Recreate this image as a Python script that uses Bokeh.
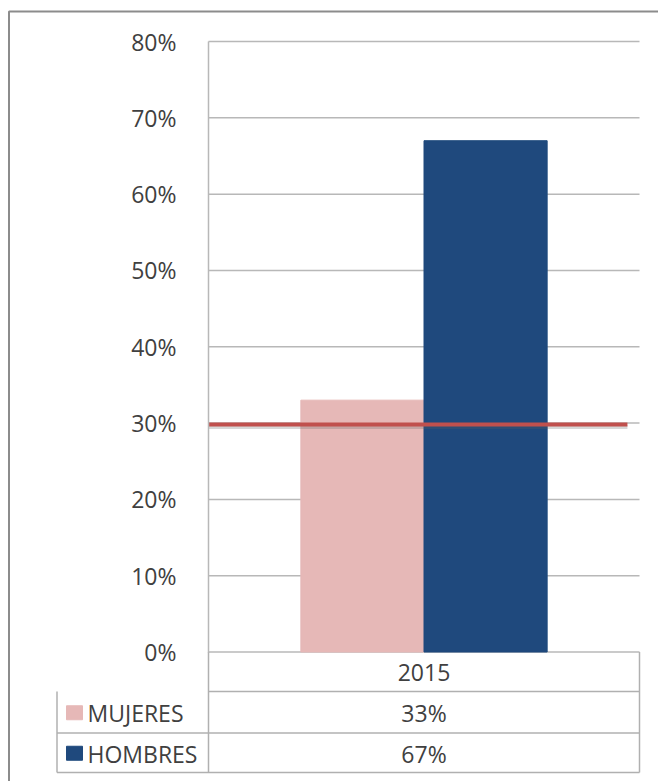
from bokeh.plotting import figure
from bokeh.models import Range1d, LinearAxis, NumeralTickFormatter, FixedTicker
from bokeh.core.properties import value
from bokeh.embed import file_html
from bokeh.resources import INLINE

# ---- data ----
categoria = "2015"
series = ["MUJERES", "HOMBRES"]
valores = [0.33, 0.67]
colores = ["#e6b8b7", "#1f497d"]
meta = 0.298          # red reference line (about 30 %)
y_ticks = [0.0, 0.1, 0.2, 0.3, 0.4, 0.5, 0.6, 0.7, 0.8]

# ---- layout (pixels) ----
W, H = 658, 781
PL, PR, PT, PB = 208, 639, 41, 651.5      # plot area
TL = 56.5                                  # data-table left edge
ROWS = [PB, 691, 732.5, 772]               # data-table row lines
FONT = "Open Sans"
FS = "23px"
TXT = "#404040"
GRID = "#b8b8b8"

p = figure(width=W, height=H, x_range=Range1d(0, W), y_range=Range1d(H, 0),
           output_backend="svg", toolbar_location=None, title=None,
           x_axis_location=None, y_axis_location=None, min_border=0)
p.background_fill_color = "white"
p.border_fill_color = "white"
p.outline_line_color = None
p.grid.visible = False

# category / percent scales mapped onto the plot area
xs_per = 1.0 / (PR - PL)
p.extra_x_ranges = {"cat": Range1d(-PL * xs_per, (W - PL) * xs_per)}
ys_per = 0.8 / (PB - PT)
p.extra_y_ranges = {"pct": Range1d(-(H - PB) * ys_per, 0.8 + PT * ys_per)}

# outer chart border (runs off the right and bottom edges like the reference)
p.line(x=[W + 20, 8.5, 8.5], y=[11, 11, H + 20], line_color="#8c8c8c", line_width=2)

# horizontal gridlines
p.segment(x0=[0] * len(y_ticks), x1=[1] * len(y_ticks), y0=y_ticks, y1=y_ticks,
          x_range_name="cat", y_range_name="pct", line_color=GRID, line_width=1.5)

# bars (gap width 150 % -> each bar 1/3.5 of the category)
bw = 1 / 3.5
xs = [0.5 - bw / 2, 0.5 + bw / 2]
p.vbar(x=xs, top=valores, bottom=0, width=bw, fill_color=colores, line_color=colores,
       line_width=1, x_range_name="cat", y_range_name="pct")

# reference line with soft shadow
p.line(x=[0, 0.972], y=[meta - 0.003, meta - 0.003], line_width=4, line_color="#606060",
       line_alpha=0.25, x_range_name="cat", y_range_name="pct")
p.line(x=[0, 0.972], y=[meta, meta], line_width=4, line_color="#c0504d",
       x_range_name="cat", y_range_name="pct")

# y axis at the left edge of the plot area
yax = LinearAxis(x_range_name="cat", y_range_name="pct", fixed_location=0, bounds=(0, 0.8))
yax.ticker = FixedTicker(ticks=y_ticks)
yax.formatter = NumeralTickFormatter(format="0%")
yax.major_tick_line_color = None
yax.minor_tick_line_color = None
yax.axis_line_color = GRID
yax.axis_line_width = 1.5
yax.major_label_standoff = 26
yax.major_label_text_font = FONT
yax.major_label_text_font_size = FS
yax.major_label_text_color = TXT
p.add_layout(yax, "left")

# data table
tcol = "#b0b0b0"
hx0 = [PL, TL, TL]
hx1 = [PR, PR, PR]
hy = ROWS[1:]
p.segment(x0=hx0, x1=hx1, y0=hy, y1=hy, line_color=tcol, line_width=1.5)
p.segment(x0=[TL, PL, PR], x1=[TL, PL, PR], y0=[ROWS[1], ROWS[0], ROWS[0]],
          y1=[ROWS[3]] * 3, line_color=tcol, line_width=1.5)

cx = (PL + PR) / 2
p.text(x=[cx], y=[(ROWS[0] + ROWS[1]) / 2 + 1], text=[categoria], text_font=value(FONT),
       text_font_size=FS, text_color=TXT, text_align="center", text_baseline="middle")

ycs = [(ROWS[i + 1] + ROWS[i + 2]) / 2 for i in range(len(series))]
p.rect(x=[74] * len(series), y=[y + 0.5 for y in ycs], width=16, height=14,
       fill_color=colores, line_color=colores, line_width=1)
p.text(x=[87] * len(series), y=[y + 1 for y in ycs], text=series, text_font=value(FONT),
       text_font_size=FS, text_color=TXT, text_align="left", text_baseline="middle")
p.text(x=[cx] * len(series), y=[y + 1 for y in ycs],
       text=[f"{round(v * 100)}%" for v in valores], text_font=value(FONT),
       text_font_size=FS, text_color=TXT, text_align="center", text_baseline="middle")

open("out.html", "w").write(file_html(p, INLINE))
